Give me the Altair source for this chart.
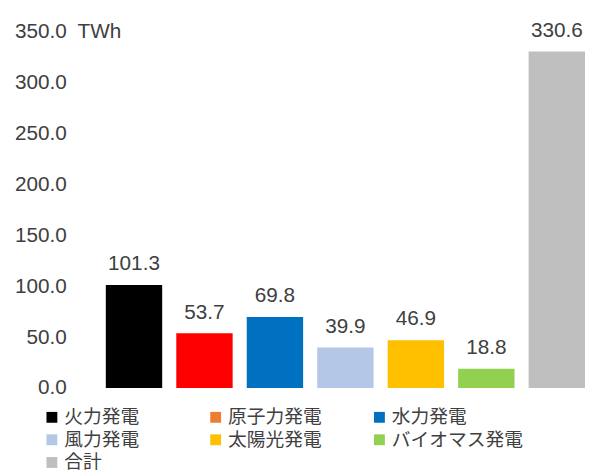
import altair as alt
import pandas as pd

categories = ["火力発電", "原子力発電", "水力発電", "風力発電", "太陽光発電", "バイオマス発電", "合計"]
values = [101.3, 53.7, 69.8, 39.9, 46.9, 18.8, 330.6]
bar_colors = ["#000000", "#FF0000", "#0070C0", "#B4C7E7", "#FFC000", "#92D050", "#BFBFBF"]
legend_colors = ["#000000", "#ED7D31", "#0070C0", "#B4C7E7", "#FFC000", "#92D050", "#BFBFBF"]
y_ticks = [0, 50, 100, 150, 200, 250, 300, 350]

df = pd.DataFrame({"cat": categories, "value": values, "bar_color": bar_colors})

FONT = "Liberation Sans"
TXT = "#404040"

x = alt.X("cat:N", sort=categories,
          scale=alt.Scale(paddingInner=0.2, paddingOuter=0.1), axis=None)
y = alt.Y("value:Q", scale=alt.Scale(domain=[0, 350], nice=False),
          axis=alt.Axis(values=y_ticks, format=".1f", title="TWh",
                        titleAngle=0, titleAlign="left", titleBaseline="middle",
                        titleX=-22, titleY=0, titleFont=FONT, titleFontSize=21,
                        titleFontWeight="normal", titleColor=TXT,
                        labelFont=FONT, labelFontSize=21, labelColor=TXT,
                        labelPadding=33, ticks=False, tickSize=0, domain=False,
                        grid=False))

bars = alt.Chart(df).mark_bar().encode(
    x=x, y=y, color=alt.Color("bar_color:N", scale=None)
)

labels = alt.Chart(df).mark_text(
    baseline="alphabetic", dy=-15, fontSize=21, color=TXT, font=FONT
).encode(x=x, y="value:Q", text=alt.Text("value:Q", format=".1f"))

legend_layer = alt.Chart(df).mark_square(opacity=0).encode(
    x=x, y="value:Q",
    fill=alt.Fill("cat:N", sort=categories,
                  scale=alt.Scale(domain=categories, range=legend_colors),
                  legend=alt.Legend(title=None, orient="none", direction="horizontal",
                                    legendX=-57, legendY=381,
                                    columns=3, gridAlign="all", columnPadding=10,
                                    rowPadding=3, symbolType="square", symbolSize=121,
                                    symbolOpacity=1, symbolStrokeWidth=0, labelOffset=3,
                                    labelFont="Noto Sans CJK JP", labelFontSize=19,
                                    labelColor=TXT, padding=0, labelLimit=300))
)

chart = alt.layer(bars, labels, legend_layer).properties(
    width=500, height=361,
    autosize=alt.AutoSizeParams(type="none"),
    padding={"left": 92, "top": 21, "right": 3, "bottom": 82},
    background="white",
).configure_view(stroke=None)

chart.save("out.html", embed_options={"renderer": "svg", "actions": False})
